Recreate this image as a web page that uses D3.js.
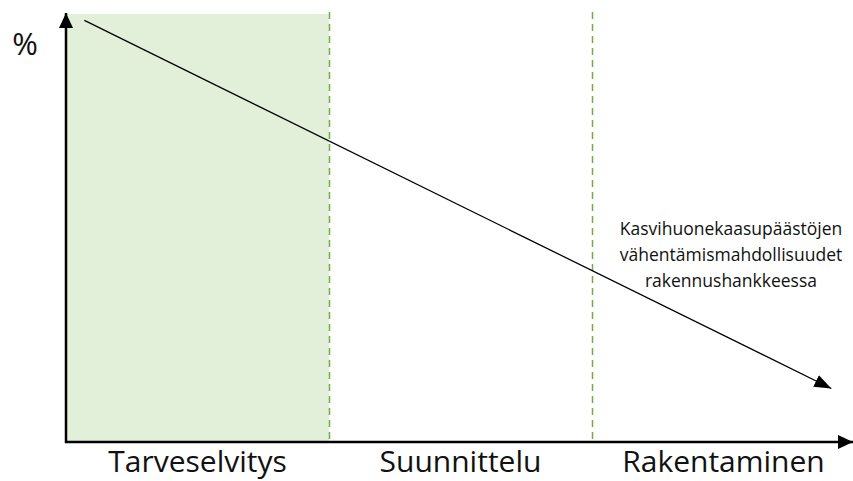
<!DOCTYPE html>
<html>
<head>
<meta charset="utf-8">
<script src="https://cdn.jsdelivr.net/npm/d3@7"></script>
<style>
    body { margin: 0; background: #fff; }
    svg text { font-family: "Open Sans", "Liberation Sans", sans-serif; fill: #111; }
</style>
</head>
<body>
<svg id="chart" width="853" height="481"></svg>
<script>
// data
const phases= ["Tarveselvitys", "Suunnittelu", "Rakentaminen"]
const highlighted= ["Tarveselvitys"]
const trend_x= [0.07, 2.91]      // position along phases (0..3)
const trend_pct= [98.5, 12.5]    // emission reduction potential, %
const note_lines= ["Kasvihuonekaasupäästöjen", "vähentämismahdollisuudet", "rakennushankkeessa"]
const y_label= "%"

// layout
const W= 853, H= 481
const m_left= 66, m_right= 855, m_bottom= 442, m_top= 14

const svg= d3.select("#chart")

const x_band= d3.scaleBand().domain(phases).range([m_left, m_right]).padding(0)
const x_pos= d3.scaleLinear().domain([0, phases.length]).range([m_left, m_right])
const y= d3.scaleLinear().domain([0, 100]).range([m_bottom, m_top])

// arrow markers
let defs= svg.append("defs")
function marker(id, w, h) {
    defs.append("marker")
        .attr("id", id)
        .attr("viewBox", `0 ${-h/2} ${w} ${h}`)
        .attr("refX", w).attr("refY", 0)
        .attr("markerWidth", w).attr("markerHeight", h)
        .attr("markerUnits", "userSpaceOnUse")
        .attr("orient", "auto")
        .append("path")
        .attr("d", `M0,${-h/2}L${w},0L0,${h/2}Z`)
        .attr("fill", "#000")
}
marker("axis-head", 15, 14)
marker("trend-head", 17, 13)

// shaded phase
svg.selectAll("rect.phase")
    .data(highlighted)
    .join("rect")
    .attr("class", "phase")
    .attr("x", d => x_band(d))
    .attr("y", y(100))
    .attr("width", x_band.bandwidth())
    .attr("height", y(0) - y(100))
    .attr("fill", "#e2efd9")

// dashed phase boundaries
svg.selectAll("line.boundary")
    .data(phases.slice(1))
    .join("line")
    .attr("class", "boundary")
    .attr("x1", d => x_band(d) + 0.5).attr("x2", d => x_band(d) + 0.5)
    .attr("y1", y(100) - 2).attr("y2", y(0))
    .attr("stroke", "#70ad47")
    .attr("stroke-width", 1.5)
    .attr("stroke-dasharray", "7,5")

// axes
svg.append("line")
    .attr("x1", m_left).attr("y1", y(0) + 1)
    .attr("x2", m_left).attr("y2", m_top - 1)
    .attr("stroke", "#000").attr("stroke-width", 2.5)
    .attr("marker-end", "url(#axis-head)")

svg.append("line")
    .attr("x1", m_left - 1).attr("y1", y(0))
    .attr("x2", W).attr("y2", y(0))
    .attr("stroke", "#000").attr("stroke-width", 2.5)
    .attr("marker-end", "url(#axis-head)")

// phase labels
svg.selectAll("text.phase-label")
    .data(phases)
    .join("text")
    .attr("class", "phase-label")
    .attr("x", d => x_band(d) + x_band.bandwidth()/2)
    .attr("y", 472)
    .attr("text-anchor", "middle")
    .attr("font-size", 30)
    .text(d => d)

svg.append("text")
    .attr("x", 25).attr("y", 55)
    .attr("text-anchor", "middle")
    .attr("font-size", 31)
    .text(y_label)

// trend line
svg.append("path")
    .datum(d3.zip(trend_x, trend_pct))
    .attr("d", d3.line().x(d => x_pos(d[0])).y(d => y(d[1])))
    .attr("fill", "none")
    .attr("stroke", "#000")
    .attr("stroke-width", 1.3)
    .attr("marker-end", "url(#trend-head)")

// note
svg.append("text")
    .attr("x", 731).attr("y", 235)
    .attr("text-anchor", "middle")
    .attr("font-size", 17.5)
    .selectAll("tspan")
    .data(note_lines)
    .join("tspan")
    .attr("x", 731)
    .attr("dy", (d, i) => i ? 26 : 0)
    .text(d => d)
</script>
</body>
</html>
